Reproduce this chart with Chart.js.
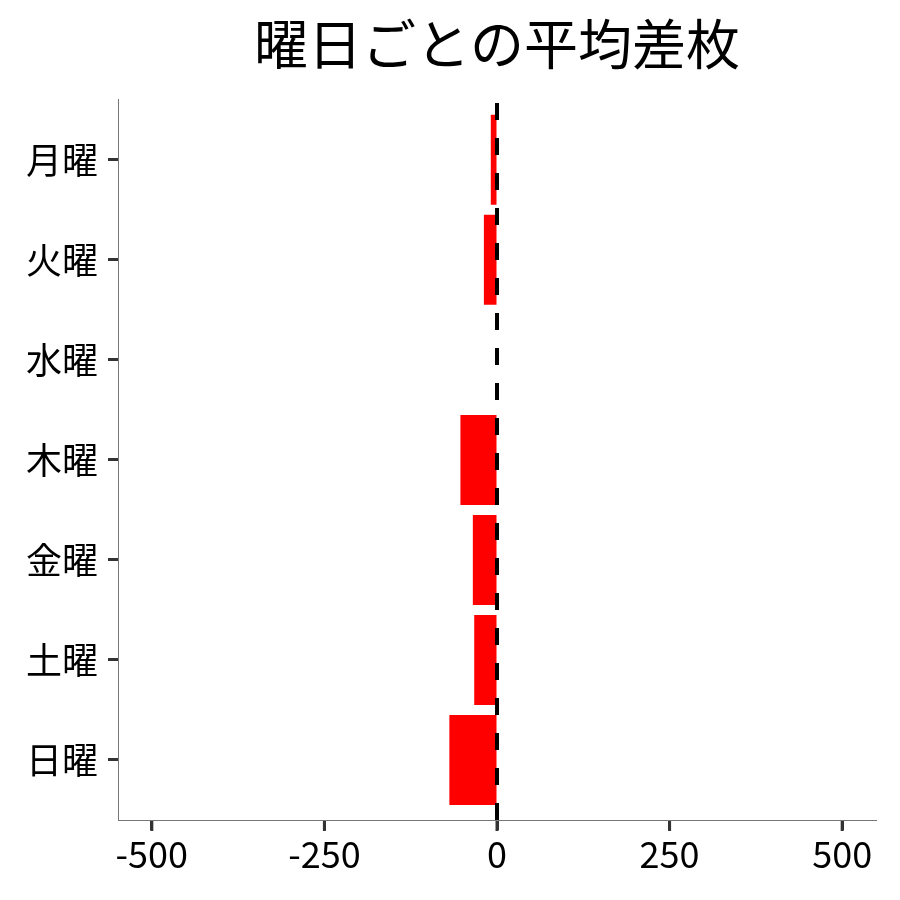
<!DOCTYPE html>
<html>
<head>
<meta charset="utf-8">
<script src="https://cdn.jsdelivr.net/npm/chart.js@4"></script>
<style>
  html, body { margin: 0; padding: 0; background: #fff; }
  #wrap { width: 900px; height: 900px; }
</style>
</head>
<body>
<div id="wrap"><canvas id="barChart"></canvas></div>
<script>
// data
var days = ['月曜', '火曜', '水曜', '木曜', '金曜', '土曜', '日曜'];
var avgDiff = [-9, -19, 0, -53, -35, -33, -69];
var xTicks = [-500, -250, 0, 250, 500];
var xMin = -549, xMax = 549;

var points = days.map(function (d, i) { return { x: avgDiff[i], y: i }; });

// dashed line at x = 0, plus the small tick marks under the x axis
var zeroLine = {
    id: 'zeroLine',
    afterDatasetsDraw: function (chart) {
        var c = chart.ctx, area = chart.chartArea;
        var x = chart.scales.x.getPixelForValue(0);
        c.save();
        c.strokeStyle = '#000';
        c.lineWidth = 4;
        c.setLineDash([17, 18]);
        c.beginPath();
        c.moveTo(x, area.bottom);
        c.lineTo(x, area.top);
        c.stroke();
        c.restore();
    },
    afterDraw: function (chart) {
        var c = chart.ctx, area = chart.chartArea, sx = chart.scales.x;
        c.save();
        c.strokeStyle = '#333';
        c.lineWidth = 3;
        sx.ticks.forEach(function (t) {
            var px = sx.getPixelForValue(t.value);
            c.beginPath();
            c.moveTo(px, area.bottom + 1);
            c.lineTo(px, area.bottom + 11);
            c.stroke();
        });
        c.restore();
    }
};

var ctx = document.getElementById('barChart').getContext('2d');
var chart = new Chart(ctx, {
    type: 'bar',
    data: {
        datasets: [{
            data: points,
            backgroundColor: '#FF0000',
            borderWidth: 0,
            categoryPercentage: 1,
            barPercentage: 0.9,
        }]
    },
    options: {
        indexAxis: 'y',
        animation: false,
        responsive: true,
        maintainAspectRatio: false,
        layout: {
            padding: { left: 0, right: 24, top: 0, bottom: 0 }
        },
        plugins: {
            legend: { display: false },
            tooltip: { enabled: false },
            title: {
                display: true,
                text: '曜日ごとの平均差枚',
                fullSize: false,
                color: '#000',
                font: { family: 'Noto Sans CJK JP', size: 54, weight: 'normal' },
                padding: { top: 12, bottom: 23 }
            }
        },
        scales: {
            x: {
                type: 'linear',
                min: xMin,
                max: xMax,
                afterBuildTicks: function (s) {
                    s.ticks = xTicks.map(function (v) { return { value: v }; });
                },
                afterFit: function (s) { s.height = 80; },
                grid: {
                    drawOnChartArea: false,
                    tickLength: 10,
                    tickWidth: 3,
                    tickColor: '#333'
                },
                border: { color: '#777', width: 1 },
                ticks: {
                    color: '#000',
                    padding: 3,
                    maxRotation: 0,
                    font: { family: 'Noto Sans CJK JP', size: 36 }
                }
            },
            y: {
                type: 'linear',
                reverse: true,
                offset: false,
                min: -0.6,
                max: days.length - 0.4,
                afterBuildTicks: function (s) {
                    s.ticks = days.map(function (d, i) { return { value: i }; });
                },
                afterFit: function (s) { s.width = 118; },
                grid: {
                    offset: false,
                    drawOnChartArea: false,
                    tickLength: 10,
                    tickWidth: 3,
                    tickColor: '#333'
                },
                border: { color: '#777', width: 1 },
                ticks: {
                    color: '#000',
                    padding: 10,
                    autoSkip: false,
                    font: { family: 'Noto Sans CJK JP', size: 36 },
                    callback: function (v) { return days[v]; }
                }
            }
        }
    },
    plugins: [zeroLine]
});
</script>
</body>
</html>
